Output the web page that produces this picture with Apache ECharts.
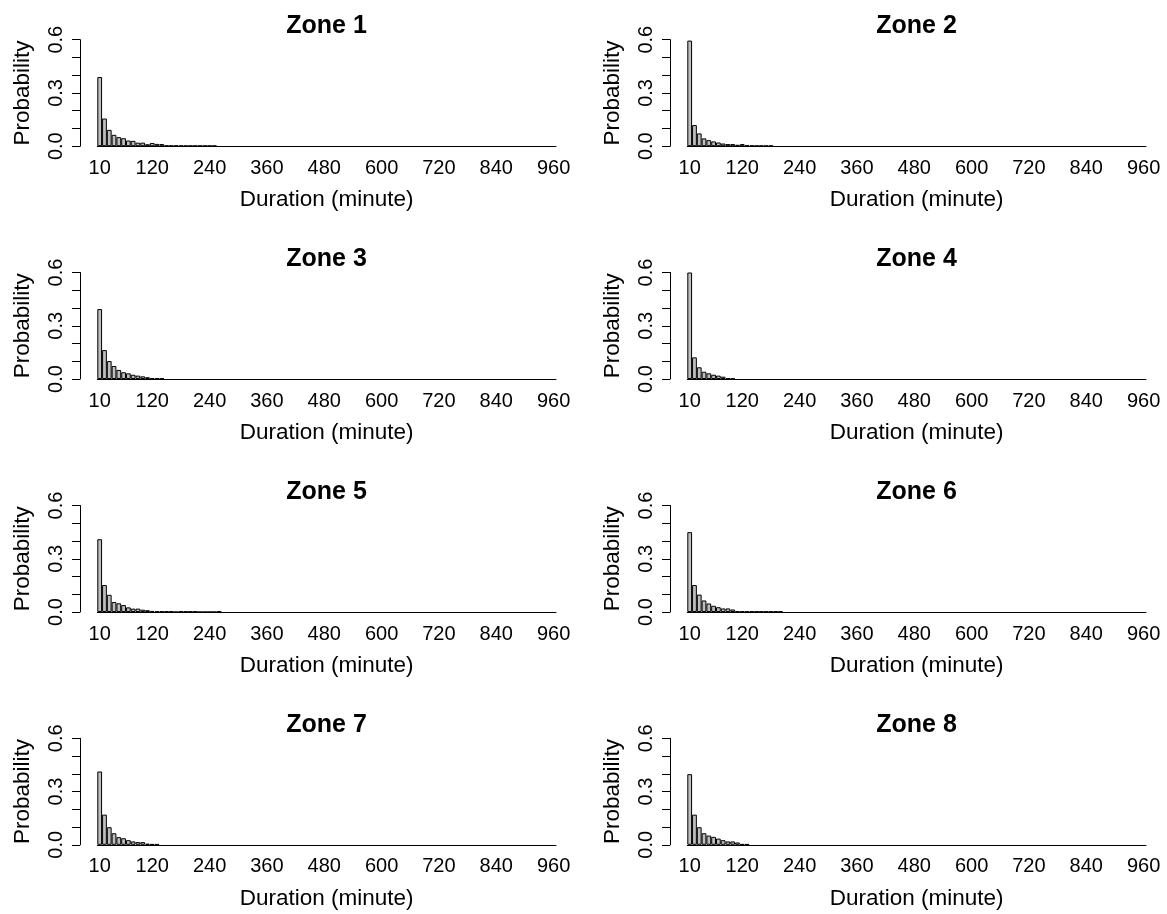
<!DOCTYPE html>
<html>
<head>
<meta charset="utf-8">
<script src="https://cdn.jsdelivr.net/npm/echarts@6/dist/echarts.min.js"></script>
<style>
  html, body { margin: 0; padding: 0; background: #fff; }
  #chart { width: 1167px; height: 914px; }
</style>
</head>
<body>
<div id="chart"></div>
<script>
// categories: duration bins (minutes)
const durations = [10,20,30,40,50,60,70,80,90,100,110,120,130,140,150,160,170,180,190,200,
  210,220,230,240,250,260,270,280,290,300,310,320,330,340,350,360,370,380,390,400,
  410,420,430,440,450,460,470,480,490,500,510,520,530,540,550,560,570,580,590,600,
  610,620,630,640,650,660,670,680,690,700,710,720,730,740,750,760,770,780,790,800,
  810,820,830,840,850,860,870,880,890,900,910,920,930,940,950,960];
const xTickLabels = [10, 120, 240, 360, 480, 600, 720, 840, 960];
const yTickLabels = [0, 0.3, 0.6];

const zoneTitles = ['Zone 1','Zone 2','Zone 3','Zone 4','Zone 5','Zone 6','Zone 7','Zone 8'];

// probabilities (bins past the end are empty)
const zone1 = [0.39,0.156,0.092,0.064,0.051,0.045,0.032,0.03,0.02,0.02,0.011,0.018,0.013,0.012,
  0.004,0.004,0.004,0.003,0.003,0.003,0.003,0.003,0.003,0.003,0.003];
const zone2 = [0.595,0.119,0.072,0.044,0.034,0.027,0.021,0.015,0.012,0.012,0.008,0.012,
  0.005,0.004,0.003,0.003,0.003,0.003];
const zone3 = [0.394,0.163,0.101,0.073,0.051,0.038,0.032,0.024,0.019,0.015,0.01,0.004,0.004,0.003];
const zone4 = [0.6,0.122,0.066,0.041,0.032,0.024,0.019,0.013,0.004,0.003];
const zone5 = [0.41,0.152,0.097,0.056,0.049,0.039,0.026,0.019,0.019,0.013,0.01,0.006,0.004,0.004,
  0.004,0.004,0,0.003,0.003,0.003,0.003,0,0,0,0,0.004];
const zone6 = [0.45,0.152,0.098,0.065,0.048,0.035,0.027,0.02,0.02,0.014,0.005,0.004,0.003,0.003,
  0.003,0.003,0.003,0.003,0.003,0.003];
const zone7 = [0.413,0.17,0.099,0.065,0.043,0.037,0.026,0.019,0.015,0.015,0.006,0.004,0.004];
const zone8 = [0.398,0.17,0.099,0.065,0.052,0.045,0.035,0.026,0.019,0.019,0.013,0.004,0.004];

const zoneProb = [zone1, zone2, zone3, zone4, zone5, zone6, zone7, zone8];

// panel geometry (px)
const colAxisX = [80, 670];
const rowTop = [39.7, 272.5, 505.5, 738.3];
const barGap = 17.3, barsWidth = 458.7, plotH = 106.5;
const FONT = 'Liberation Sans, Arial, sans-serif';

const option = { animation: false, title: [], grid: [], xAxis: [], yAxis: [], series: [] };

zoneProb.forEach((vals, i) => {
  const col = i % 2, row = Math.floor(i / 2);
  const ax = colAxisX[col], top = rowTop[row];

  option.title.push({
    text: zoneTitles[i], left: ax + 246.5, top: top - 26, textAlign: 'center', padding: 0,
    textStyle: { fontFamily: FONT, fontSize: 25, fontWeight: 'bold', color: '#000' }
  });
  option.grid.push({ left: ax + barGap, top: top, width: barsWidth, height: plotH });

  option.xAxis.push({
    type: 'category', gridIndex: i, data: durations, boundaryGap: true,
    axisTick: { show: false },
    axisLine: { show: true, lineStyle: { color: '#000', width: 1 } },
    axisLabel: {
      interval: (idx, v) => xTickLabels.includes(+v),
      fontFamily: FONT, fontSize: 20, color: '#000', margin: 12
    },
    splitLine: { show: false },
    name: 'Duration (minute)', nameLocation: 'middle', nameGap: 42,
    nameTextStyle: { fontFamily: FONT, fontSize: 22.5, color: '#000' }
  });

  option.yAxis.push({
    type: 'value', gridIndex: i, min: 0, max: 0.6, interval: 0.1, offset: barGap,
    axisLine: { show: true, lineStyle: { color: '#000', width: 1 } },
    axisTick: { show: true, length: 8, lineStyle: { color: '#000' } },
    splitLine: { show: false },
    axisLabel: {
      rotate: 90, margin: 14, fontFamily: FONT, fontSize: 20, color: '#000',
      formatter: v => yTickLabels.some(t => Math.abs(t - v) < 1e-9) ? v.toFixed(1) : ''
    },
    name: 'Probability', nameLocation: 'middle', nameRotate: 90, nameGap: 46,
    nameTextStyle: { fontFamily: FONT, fontSize: 22.5, color: '#000' }
  });

  option.series.push({
    type: 'bar', xAxisIndex: i, yAxisIndex: i, data: vals,
    barCategoryGap: 0, barGap: 0,
    itemStyle: { color: '#bebebe', borderColor: '#000', borderWidth: 1 }
  });
});

const chart = echarts.init(document.getElementById('chart'), null, { renderer: 'canvas' });
chart.setOption(option);
</script>
</body>
</html>
